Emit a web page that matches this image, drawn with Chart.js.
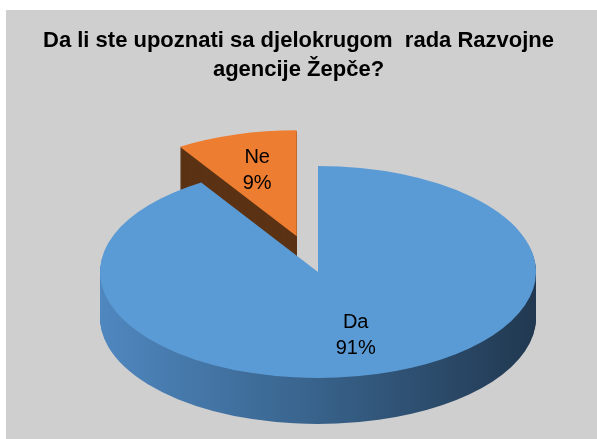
<!DOCTYPE html>
<html>
<head>
<meta charset="utf-8">
<script src="https://cdn.jsdelivr.net/npm/chart.js@4/dist/chart.umd.min.js"></script>
<style>
  html, body { margin: 0; padding: 0; background: #ffffff; }
  #wrap { position: absolute; left: 0; top: 0; width: 597px; height: 439px; }
</style>
</head>
<body>
<div id="wrap"><canvas id="pie3d" width="597" height="439"></canvas></div>
<script>
// ===== データ =====
const titleLines = ['Da li ste upoznati sa djelokrugom  rada Razvojne', 'agencije Žepče?'];
const categories = ['Ne', 'Da'];
const percentValues = [9, 91];
const sliceColors = ['#ed7d31', '#5b9bd5'];
const explodeFractions = [0.35, 0];   // 半径に対する切り出し量

// ===== 3D 表示用の設定 =====
const view = { cx: 318, cy: 272, rx: 218, ry: 106, depth: 46 };
const panel = { x: 6, y: 10, color: '#d0cfd0' };
const fontFamily = '"Liberation Sans Narrow", "Arial Narrow", "Liberation Sans", Arial, sans-serif';

// 円を楕円へ写す変換（切り出しも含む）
function applyView(ctx, arc, i, dy) {
    const R = arc.outerRadius;
    const mid = (arc.startAngle + arc.endAngle) / 2;
    const e = explodeFractions[i];
    ctx.translate(view.cx + Math.cos(mid) * e * view.rx, view.cy + Math.sin(mid) * e * view.ry + dy);
    ctx.scale(view.rx / R, view.ry / R);
    ctx.translate(-arc.x, -arc.y);
}

function sideFill(ctx, arc, index) {
    if (index === 0) return '#5b3214';
    const R = arc.outerRadius;
    const g = ctx.createLinearGradient(arc.x - R, 0, arc.x + R, 0);
    g.addColorStop(0, '#4f87bf');
    g.addColorStop(0.45, '#3a6690');
    g.addColorStop(1, '#213850');
    return g;
}

const pie3dPlugin = {
    id: 'pie3d',
    beforeDraw(chart) {
        const ctx = chart.ctx;
        ctx.save();
        ctx.fillStyle = panel.color;
        ctx.fillRect(panel.x, panel.y, chart.width - panel.x, chart.height - panel.y);
        ctx.restore();
    },
    beforeDatasetsDraw(chart) {
        const ctx = chart.ctx;
        const arcs = chart.getDatasetMeta(0).data;
        arcs.forEach((arc, i) => {
            const orig = arc.options;
            // 側面（奥から手前へ重ねる）
            for (let d = view.depth; d >= 1; d--) {
                ctx.save();
                applyView(ctx, arc, i, d);
                arc.options = Object.assign({}, orig, { backgroundColor: sideFill(ctx, arc, i) });
                arc.draw(ctx);
                ctx.restore();
            }
            arc.options = orig;
            // 上面
            ctx.save();
            applyView(ctx, arc, i, 0);
            arc.draw(ctx);
            ctx.restore();
        });
        return false;
    },
    afterDraw(chart) {
        const ctx = chart.ctx;
        const arcs = chart.getDatasetMeta(0).data;
        const labelRadius = [0.65, 0.62];
        arcs.forEach((arc, i) => {
            const mid = (arc.startAngle + arc.endAngle) / 2;
            const r = labelRadius[i] + explodeFractions[i];
            const sx = view.cx + Math.cos(mid) * r * view.rx;
            const sy = view.cy + Math.sin(mid) * r * view.ry;
            ctx.save();
            ctx.fillStyle = '#000000';
            ctx.font = '20px ' + fontFamily;
            ctx.textAlign = 'center';
            ctx.textBaseline = 'middle';
            ctx.fillText(categories[i], sx, sy - 13);
            ctx.fillText(percentValues[i] + '%', sx, sy + 13);
            ctx.restore();
        });
    }
};

const ctx = document.getElementById('pie3d').getContext('2d');
new Chart(ctx, {
    type: 'pie',
    data: {
        labels: categories,
        datasets: [{
            data: percentValues,
            backgroundColor: sliceColors,
            borderWidth: 0
        }]
    },
    options: {
        responsive: false,
        animation: false,
        rotation: -360 * percentValues[0] / 100,
        layout: { padding: { top: 0, bottom: 10 } },
        plugins: {
            legend: { display: false },
            tooltip: { enabled: false },
            title: {
                display: true,
                text: titleLines,
                color: '#000000',
                font: { family: fontFamily, size: 22, weight: 'bold', lineHeight: 1.3 },
                padding: { top: 27, bottom: 20 }
            }
        }
    },
    plugins: [pie3dPlugin]
});
</script>
</body>
</html>
